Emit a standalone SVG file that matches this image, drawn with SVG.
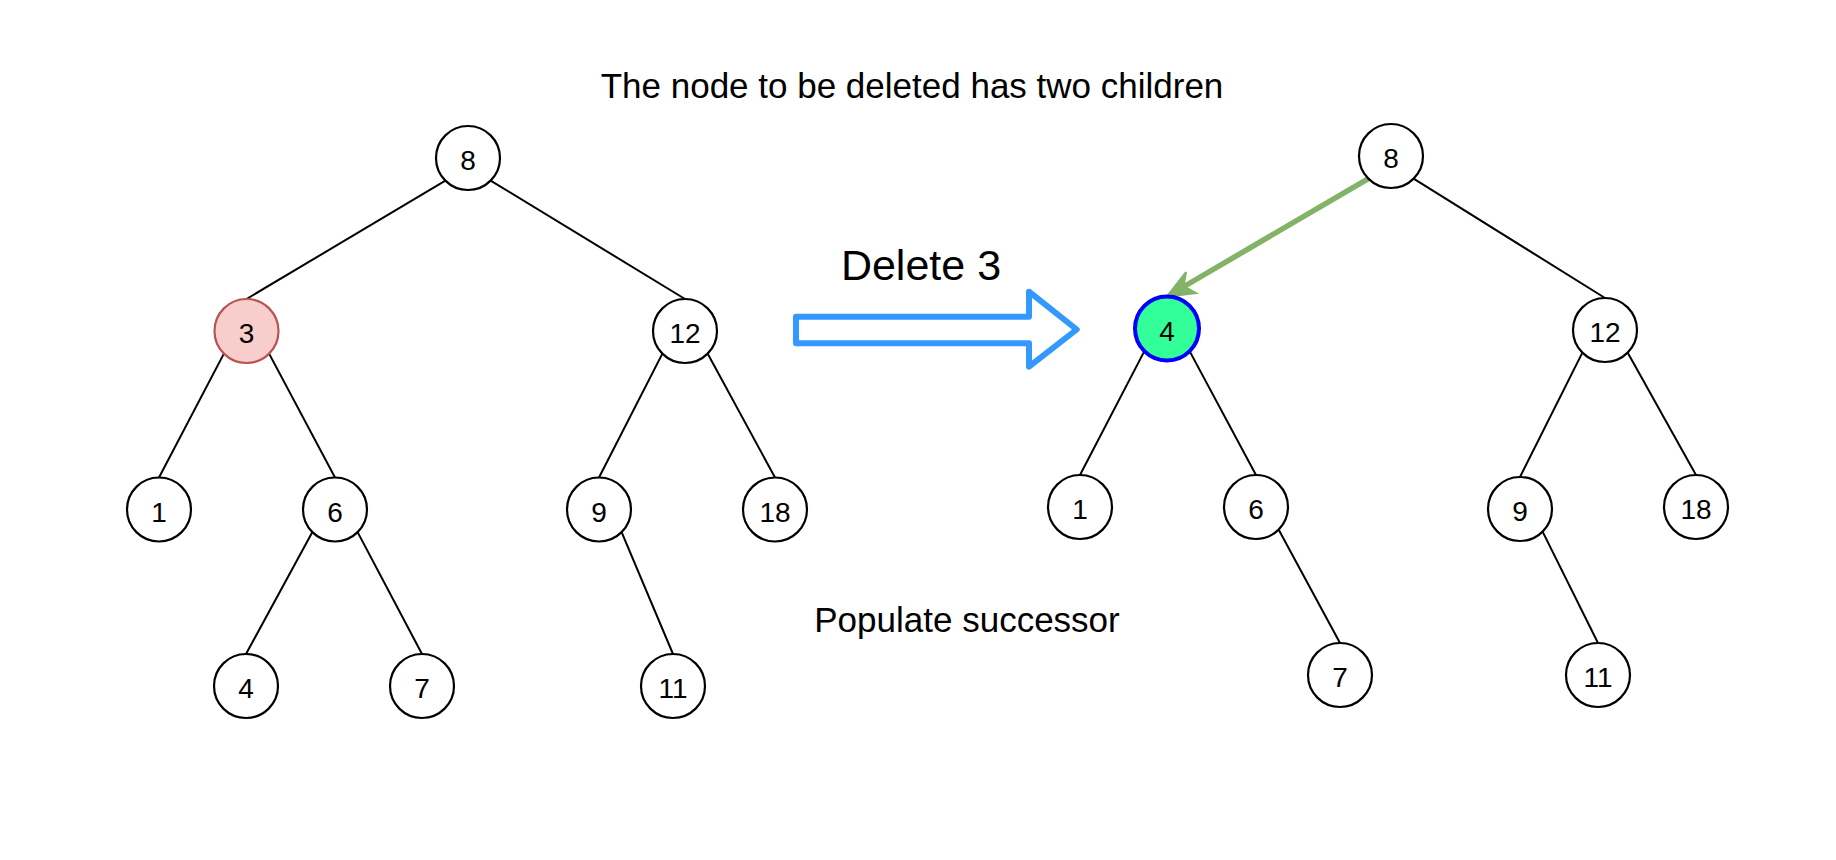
<svg xmlns="http://www.w3.org/2000/svg" width="1836" height="860" viewBox="0 0 1836 860">
<style>
.n{fill:#ffffff;stroke:#000000;stroke-width:2.2}
.t{font-family:"Liberation Sans",Arial,sans-serif;font-size:28px;text-anchor:middle;fill:#000}
.e{stroke:#000;stroke-width:2;fill:none}
.lbl{font-family:"Liberation Sans",Arial,sans-serif;fill:#000;text-anchor:middle}
</style>
<rect width="1836" height="860" fill="#ffffff"/>
<g id="connectors">
<line class="e" x1="445.4" y1="180.6" x2="246.5" y2="299"/>
<line class="e" x1="490.6" y1="180.6" x2="685" y2="299"/>
<line class="e" x1="223.9" y1="353.6" x2="159" y2="477.5"/>
<line class="e" x1="269.1" y1="353.6" x2="335" y2="477.5"/>
<line class="e" x1="662.4" y1="353.6" x2="599" y2="477.5"/>
<line class="e" x1="707.6" y1="353.6" x2="775" y2="477.5"/>
<line class="e" x1="312.4" y1="532.1" x2="246" y2="654"/>
<line class="e" x1="357.6" y1="532.1" x2="422" y2="654"/>
<line class="e" x1="621.6" y1="532.1" x2="673" y2="654"/>
<line class="e" x1="1413.6" y1="178.6" x2="1605" y2="298"/>
<line class="e" x1="1144.4" y1="351.1" x2="1080" y2="475"/>
<line class="e" x1="1189.6" y1="351.1" x2="1256" y2="475"/>
<line class="e" x1="1582.4" y1="352.6" x2="1520" y2="477"/>
<line class="e" x1="1627.6" y1="352.6" x2="1696" y2="475"/>
<line class="e" x1="1278.6" y1="529.6" x2="1340" y2="643"/>
<line class="e" x1="1542.6" y1="531.6" x2="1598" y2="643"/>
<line x1="1368.4" y1="178.6" x2="1184" y2="286.5" stroke="#82b366" stroke-width="5.5"/>
<path d="M1167,296.5 L1196,293 L1183.5,286 L1186,272 Z" fill="#82b366" stroke="#82b366" stroke-width="2" stroke-linejoin="miter"/>
</g>
<g id="title"><text class="lbl" x="912" y="98" font-size="35">The node to be deleted has two children</text></g>
<g id="delete-label"><text class="lbl" x="921" y="280" font-size="43">Delete 3</text></g>
<g id="populate-label"><text class="lbl" x="967" y="632" font-size="35">Populate successor</text></g>
<g id="big-arrow"><path d="M796,316.7 L1029,316.7 L1029,291.7 L1076.7,329.5 L1029,366.7 L1029,343.3 L796,343.3 Z" fill="#ffffff" stroke="#3399ff" stroke-width="6" stroke-linejoin="round"/></g>
<g id="L8"><circle class="n" cx="468" cy="158" r="32"/><text class="t" x="468" y="170">8</text></g>
<g id="L3"><circle cx="246.5" cy="331" r="32" fill="#f8cecc" stroke="#b85450" stroke-width="2.2"/><text class="t" x="246.5" y="343">3</text></g>
<g id="L12"><circle class="n" cx="685" cy="331" r="32"/><text class="t" x="685" y="343">12</text></g>
<g id="L1"><circle class="n" cx="159" cy="509.5" r="32"/><text class="t" x="159" y="521.5">1</text></g>
<g id="L6"><circle class="n" cx="335" cy="509.5" r="32"/><text class="t" x="335" y="521.5">6</text></g>
<g id="L9"><circle class="n" cx="599" cy="509.5" r="32"/><text class="t" x="599" y="521.5">9</text></g>
<g id="L18"><circle class="n" cx="775" cy="509.5" r="32"/><text class="t" x="775" y="521.5">18</text></g>
<g id="L4"><circle class="n" cx="246" cy="686" r="32"/><text class="t" x="246" y="698">4</text></g>
<g id="L7"><circle class="n" cx="422" cy="686" r="32"/><text class="t" x="422" y="698">7</text></g>
<g id="L11"><circle class="n" cx="673" cy="686" r="32"/><text class="t" x="673" y="698">11</text></g>
<g id="R8"><circle class="n" cx="1391" cy="156" r="32"/><text class="t" x="1391" y="168">8</text></g>
<g id="R4"><circle cx="1167" cy="328.5" r="32" fill="#33ff99" stroke="#0000ff" stroke-width="4"/><text class="t" x="1167" y="340.5">4</text></g>
<g id="R12"><circle class="n" cx="1605" cy="330" r="32"/><text class="t" x="1605" y="342">12</text></g>
<g id="R1"><circle class="n" cx="1080" cy="507" r="32"/><text class="t" x="1080" y="519">1</text></g>
<g id="R6"><circle class="n" cx="1256" cy="507" r="32"/><text class="t" x="1256" y="519">6</text></g>
<g id="R9"><circle class="n" cx="1520" cy="509" r="32"/><text class="t" x="1520" y="521">9</text></g>
<g id="R18"><circle class="n" cx="1696" cy="507" r="32"/><text class="t" x="1696" y="519">18</text></g>
<g id="R7"><circle class="n" cx="1340" cy="675" r="32"/><text class="t" x="1340" y="687">7</text></g>
<g id="R11"><circle class="n" cx="1598" cy="675" r="32"/><text class="t" x="1598" y="687">11</text></g>
</svg>
